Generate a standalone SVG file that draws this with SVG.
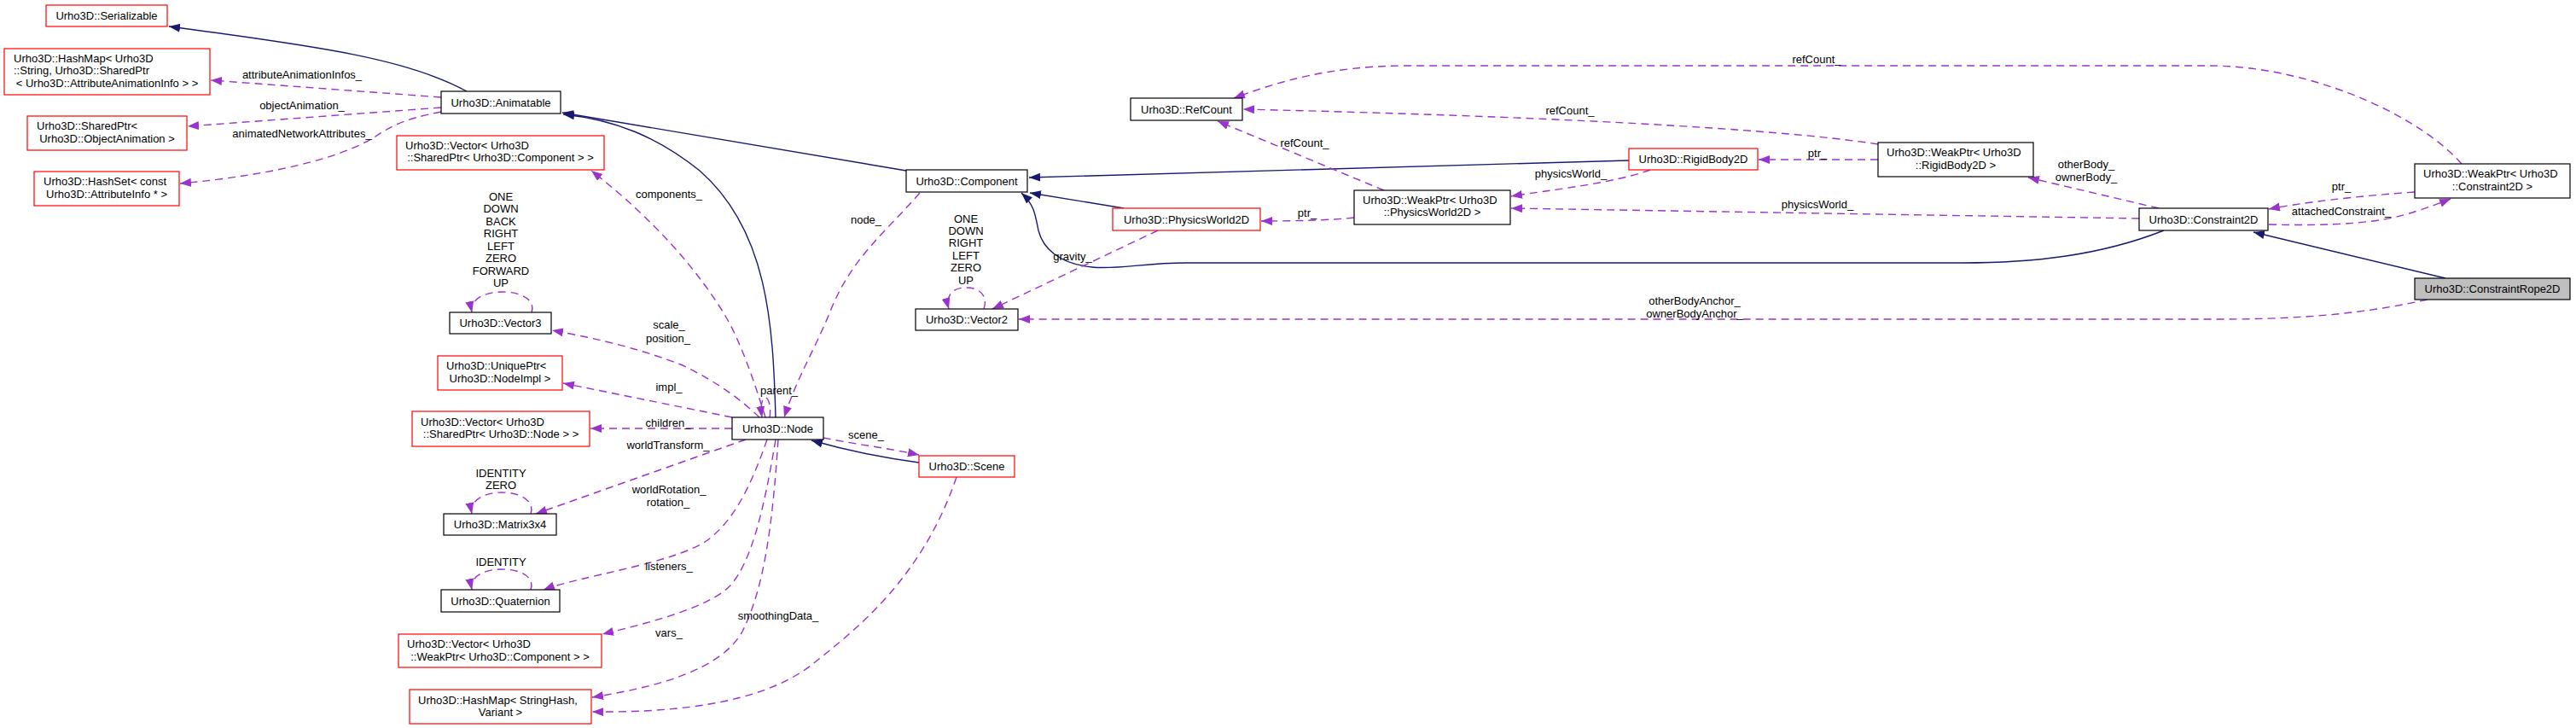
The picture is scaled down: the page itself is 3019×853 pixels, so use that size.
<svg xmlns="http://www.w3.org/2000/svg" width="3019" height="853" viewBox="0 0 3019 853">
<defs>
<style>
.nd rect{fill:#ffffff;stroke:#000000;stroke-width:1.2}
.nd.red rect{stroke:#ff0000}
.nd.root rect{fill:#bfbfbf}
text{font-family:"Liberation Sans",Arial,Helvetica,sans-serif;font-size:13px;fill:#000000}
.c{text-anchor:middle}
.l{text-anchor:start}
.inh{fill:none;stroke:#191970;stroke-width:1.4;marker-end:url(#ahn)}
.use{fill:none;stroke:#9a32cd;stroke-width:1.4;stroke-dasharray:9,6;marker-end:url(#ahp)}
</style>
<marker id="ahn" markerWidth="14" markerHeight="11" refX="13" refY="5" orient="auto" markerUnits="userSpaceOnUse"><path d="M0,0 L13,5 L0,10 z" fill="#191970"/></marker>
<marker id="ahp" markerWidth="14" markerHeight="11" refX="13" refY="5" orient="auto" markerUnits="userSpaceOnUse"><path d="M0,0 L13,5 L0,10 z" fill="#9a32cd"/></marker>
</defs>
<rect width="3019" height="853" fill="#ffffff"/>

<g id="connectors">
<!-- inheritance -->
<path class="inh" d="M547,107 C480,70 380,55 198,31"/>
<path class="inh" d="M1062,200 L659,132"/>
<path class="inh" d="M909,489 C906,380 900,270 820,200 C770,160 720,140 660,134"/>
<path class="inh" d="M1909,188 L1206,208"/>
<path class="inh" d="M1317,244 L1207,226"/>
<path class="inh" d="M2536,270 C2460,300 2380,308 2300,308 L1390,308 C1340,308 1310,316 1280,313 C1240,309 1222,290 1217,270 C1213,250 1212,240 1197,226"/>
<path class="inh" d="M2866,326 L2641,272"/>
<path class="inh" d="M1077,542 C1040,537 1000,530 951,516"/>
<!-- usage -->
<path class="use" d="M517,114 L247,94"/>
<path class="use" d="M517,126 L220,148"/>
<path class="use" d="M517,131 C470,140 455,150 440,160 C400,185 320,205 211,215"/>
<path class="use" d="M897,489 C885,450 868,400 850,370 C820,320 770,260 693,200"/>
<path class="use" d="M890,489 C870,470 845,450 800,428 C740,405 690,395 647,387"/>
<path class="use" d="M858,489 L660,449"/>
<path class="use" d="M858,502 L692,502"/>
<path class="use" d="M874,515 L628,602"/>
<path class="use" d="M899,515 C880,570 860,610 829,633 C790,660 680,675 637,691"/>
<path class="use" d="M909,515 C895,600 880,660 855,687 C830,712 760,730 706,743"/>
<path class="use" d="M912,515 C905,620 895,690 870,740 C845,785 770,805 694,817"/>
<path class="use" d="M1121,559 C1080,680 1000,740 950,780 C890,825 790,835 694,834"/>
<path class="use" d="M965,513 C1000,520 1040,525 1077,533"/>
<path class="use" d="M1078,226 C1040,270 1000,300 975,360 C955,410 935,440 919,489"/>
<path class="use" d="M902,489 C904,478 901,466 897,466 C893,466 891,475 893,489"/>
<path class="use" d="M623,366 C628,352 612,342 589,342 C566,342 550,352 553,366"/>
<path class="use" d="M622,602 C627,588 612,577 588,577 C565,577 550,588 553,602"/>
<path class="use" d="M622,691 C627,677 612,667 588,667 C565,667 550,677 553,691"/>
<path class="use" d="M1357,270 L1163,362"/>
<path class="use" d="M1153,362 C1158,348 1150,337 1132,337 C1115,337 1108,348 1112,362"/>
<path class="use" d="M2845,351 C2760,370 2680,374 2600,374 L1194,374"/>
<path class="use" d="M1587,255 C1560,258 1520,259 1478,259"/>
<path class="use" d="M1622,223 L1427,142"/>
<path class="use" d="M1934,199 C1890,215 1820,222 1771,230"/>
<path class="use" d="M2507,256 L1771,244"/>
<path class="use" d="M2201,169 C2080,150 1800,136 1457,128"/>
<path class="use" d="M2201,187 L2061,187"/>
<path class="use" d="M2530,244 L2377,208"/>
<path class="use" d="M2885,192 C2830,130 2700,77 2590,77 L1650,77 C1560,77 1500,95 1446,115"/>
<path class="use" d="M2830,225 C2760,230 2700,237 2659,245"/>
<path class="use" d="M2659,263 C2730,265 2790,262 2830,248 Q2855,240 2872,233"/>
</g>

<g id="edge-labels">
<text class="c" x="354" y="91.5">attributeAnimationInfos_</text>
<text class="c" x="354" y="127.5">objectAnimation_</text>
<text class="c" x="354" y="160.5">animatedNetworkAttributes_</text>
<text class="c" x="784" y="231.5">components_</text>
<text class="c" x="587" y="234.5">ONE</text>
<text class="c" x="587" y="249">DOWN</text>
<text class="c" x="587" y="263.5">BACK</text>
<text class="c" x="587" y="278">RIGHT</text>
<text class="c" x="587" y="292.5">LEFT</text>
<text class="c" x="587" y="307">ZERO</text>
<text class="c" x="587" y="321.5">FORWARD</text>
<text class="c" x="587" y="336">UP</text>
<text class="c" x="784" y="384.5">scale_</text>
<text class="c" x="783" y="400.5">position_</text>
<text class="c" x="784" y="457.5">impl_</text>
<text class="c" x="913" y="461.5">parent_</text>
<text class="c" x="783" y="499.5">children_</text>
<text class="c" x="783" y="525.5">worldTransform_</text>
<text class="c" x="587" y="558.5">IDENTITY</text>
<text class="c" x="587" y="572.5">ZERO</text>
<text class="c" x="784" y="577.5">worldRotation_</text>
<text class="c" x="783" y="592.5">rotation_</text>
<text class="c" x="587" y="662.5">IDENTITY</text>
<text class="c" x="784" y="667.5">listeners_</text>
<text class="c" x="912" y="725.5">smoothingData_</text>
<text class="c" x="784" y="745.5">vars_</text>
<text class="c" x="1015" y="513.5">scene_</text>
<text class="c" x="1015" y="261.5">node_</text>
<text class="c" x="1132" y="260.5">ONE</text>
<text class="c" x="1132" y="274.5">DOWN</text>
<text class="c" x="1132" y="289">RIGHT</text>
<text class="c" x="1132" y="303.5">LEFT</text>
<text class="c" x="1132" y="318">ZERO</text>
<text class="c" x="1132" y="332.5">UP</text>
<text class="c" x="1257" y="304.5">gravity_</text>
<text class="c" x="1840" y="133.5">refCount_</text>
<text class="c" x="1529" y="171.5">refCount_</text>
<text class="c" x="1841" y="207.5">physicsWorld_</text>
<text class="c" x="1532" y="253.5">ptr_</text>
<text class="c" x="2129" y="73.5">refCount_</text>
<text class="c" x="2130" y="183.5">ptr_</text>
<text class="c" x="2445" y="196.5">otherBody_</text>
<text class="c" x="2445" y="211.5">ownerBody_</text>
<text class="c" x="2130" y="243.5">physicsWorld_</text>
<text class="c" x="2744" y="222.5">ptr_</text>
<text class="c" x="2744" y="251.5">attachedConstraint_</text>
<text class="c" x="1986" y="356.5">otherBodyAnchor_</text>
<text class="c" x="1986" y="371.5">ownerBodyAnchor_</text>
</g>

<g id="n_serializable" class="nd red"><rect x="54" y="6" width="142" height="25"/><text class="c" x="125" y="23">Urho3D::Serializable</text></g>
<g id="n_hashmap_anim" class="nd red"><rect x="5" y="57" width="241" height="54"/><text class="l" x="16" y="72.5">Urho3D::HashMap&lt; Urho3D</text><text class="l" x="16" y="87">::String, Urho3D::SharedPtr</text><text class="c" x="125.5" y="101.5">&lt; Urho3D::AttributeAnimationInfo &gt; &gt;</text></g>
<g id="n_animatable" class="nd"><rect x="517" y="107" width="140" height="26"/><text class="c" x="587" y="124.5">Urho3D::Animatable</text></g>
<g id="n_sharedptr" class="nd red"><rect x="32" y="136" width="187" height="40"/><text class="l" x="43" y="151.5">Urho3D::SharedPtr&lt;</text><text class="c" x="125.5" y="167">Urho3D::ObjectAnimation &gt;</text></g>
<g id="n_hashset" class="nd red"><rect x="40" y="201" width="170" height="40"/><text class="l" x="51" y="216.5">Urho3D::HashSet&lt; const</text><text class="c" x="125" y="231.5">Urho3D::AttributeInfo * &gt;</text></g>
<g id="n_vec_comp" class="nd red"><rect x="465" y="159" width="243" height="40"/><text class="l" x="475" y="175">Urho3D::Vector&lt; Urho3D</text><text class="c" x="586.5" y="189">::SharedPtr&lt; Urho3D::Component &gt; &gt;</text></g>
<g id="n_vector3" class="nd"><rect x="527" y="366" width="119" height="25"/><text class="c" x="586.5" y="383">Urho3D::Vector3</text></g>
<g id="n_uniqueptr" class="nd red"><rect x="513" y="417" width="146" height="40"/><text class="l" x="523" y="433">Urho3D::UniquePtr&lt;</text><text class="c" x="586" y="448">Urho3D::NodeImpl &gt;</text></g>
<g id="n_vec_node" class="nd red"><rect x="483" y="482" width="208" height="41"/><text class="l" x="493" y="499">Urho3D::Vector&lt; Urho3D</text><text class="c" x="587" y="513">::SharedPtr&lt; Urho3D::Node &gt; &gt;</text></g>
<g id="n_node" class="nd"><rect x="858" y="489" width="107" height="26"/><text class="c" x="911.5" y="506.5">Urho3D::Node</text></g>
<g id="n_matrix" class="nd"><rect x="520" y="602" width="132" height="25"/><text class="c" x="586" y="619">Urho3D::Matrix3x4</text></g>
<g id="n_quat" class="nd"><rect x="517" y="691" width="139" height="26"/><text class="c" x="586.5" y="708.5">Urho3D::Quaternion</text></g>
<g id="n_vec_weak" class="nd red"><rect x="467" y="743" width="238" height="39"/><text class="l" x="477" y="759">Urho3D::Vector&lt; Urho3D</text><text class="c" x="586" y="773.5">::WeakPtr&lt; Urho3D::Component &gt; &gt;</text></g>
<g id="n_hashmap_sh" class="nd red"><rect x="480" y="808" width="213" height="40"/><text class="l" x="490" y="824.5">Urho3D::HashMap&lt; StringHash,</text><text class="c" x="586.5" y="838.5">Variant &gt;</text></g>
<g id="n_scene" class="nd red"><rect x="1077" y="534" width="112" height="25"/><text class="c" x="1133" y="551">Urho3D::Scene</text></g>
<g id="n_component" class="nd"><rect x="1062" y="199" width="142" height="26"/><text class="c" x="1133" y="216.5">Urho3D::Component</text></g>
<g id="n_refcount" class="nd"><rect x="1325" y="115" width="131" height="26"/><text class="c" x="1390.5" y="132.5">Urho3D::RefCount</text></g>
<g id="n_physworld" class="nd red"><rect x="1304" y="244" width="173" height="26"/><text class="c" x="1390.5" y="261.5">Urho3D::PhysicsWorld2D</text></g>
<g id="n_vector2" class="nd"><rect x="1073" y="362" width="120" height="25"/><text class="c" x="1133" y="379">Urho3D::Vector2</text></g>
<g id="n_weak_pw" class="nd"><rect x="1587" y="223" width="183" height="40"/><text class="l" x="1597" y="239">Urho3D::WeakPtr&lt; Urho3D</text><text class="c" x="1678.5" y="253">::PhysicsWorld2D &gt;</text></g>
<g id="n_rigid" class="nd red"><rect x="1909" y="174" width="151" height="25"/><text class="c" x="1984.5" y="191">Urho3D::RigidBody2D</text></g>
<g id="n_weak_rb" class="nd"><rect x="2201" y="167" width="182" height="40"/><text class="l" x="2211" y="183">Urho3D::WeakPtr&lt; Urho3D</text><text class="c" x="2292" y="197.5">::RigidBody2D &gt;</text></g>
<g id="n_constraint" class="nd"><rect x="2507" y="244" width="151" height="26"/><text class="c" x="2582.5" y="261.5">Urho3D::Constraint2D</text></g>
<g id="n_weak_c2d" class="nd"><rect x="2830" y="192" width="182" height="40"/><text class="l" x="2840" y="208">Urho3D::WeakPtr&lt; Urho3D</text><text class="c" x="2921" y="222.5">::Constraint2D &gt;</text></g>
<g id="n_rope" class="nd root"><rect x="2830" y="326" width="182" height="25"/><text class="c" x="2921" y="343">Urho3D::ConstraintRope2D</text></g>
</svg>
